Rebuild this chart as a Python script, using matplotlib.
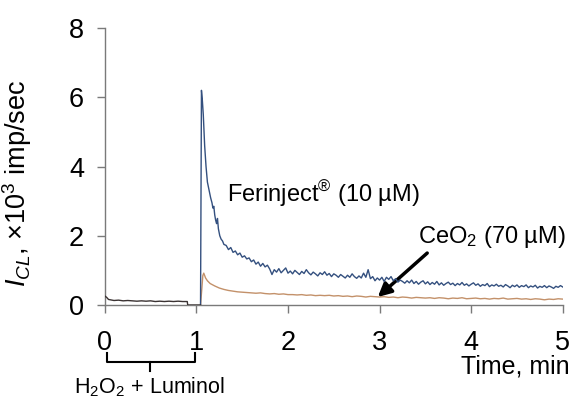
import matplotlib
matplotlib.use("Agg")
import matplotlib.pyplot as plt

plt.rcParams['font.family'] = ['Liberation Sans', 'DejaVu Sans']
plt.rcParams['mathtext.fontset'] = 'custom'
plt.rcParams['mathtext.rm'] = 'Liberation Sans'
plt.rcParams['mathtext.it'] = 'Liberation Sans:italic'
plt.rcParams['mathtext.bf'] = 'Liberation Sans:bold'

# ---- data ----
t_base = [0, 0.02, 0.04, 0.06, 0.08, 0.1, 0.15, 0.2, 0.25, 0.3, 0.35, 0.4,
          0.45, 0.5, 0.55, 0.6, 0.65, 0.7, 0.75, 0.8, 0.85, 0.9, 0.905, 1.045]
v_base = [0.26, 0.22, 0.16, 0.15, 0.14, 0.13, 0.14, 0.12, 0.13, 0.12, 0.11, 0.12,
          0.11, 0.12, 0.10, 0.11, 0.10, 0.11, 0.10, 0.11, 0.10, 0.10, 0.0, 0.0]

t_fer_peak = [1.045, 1.055, 1.065, 1.075, 1.09, 1.105, 1.12, 1.14, 1.155, 1.17,
              1.18, 1.19, 1.2, 1.21, 1.22, 1.23, 1.24, 1.255, 1.27, 1.285, 1.3]
v_fer_peak = [0.0, 6.2, 5.9, 5.5, 4.6, 4.0, 3.55, 3.3, 3.1, 2.95,
              2.8, 2.85, 2.6, 2.45, 2.35, 2.5, 2.2, 2.0, 1.9, 1.85, 1.75]

t_fer_tail_start = 1.325
t_fer_tail_step = 0.025
v_fer_tail = [
    1.72, 1.60, 1.66, 1.52, 1.56, 1.45, 1.50, 1.38, 1.42, 1.33,
    1.36, 1.25, 1.30, 1.18, 1.24, 1.12, 1.20, 1.10, 1.15, 1.04,
    0.88, 1.02, 0.95, 1.05, 0.93, 1.00, 1.07, 0.92, 0.98, 0.90,
    1.00, 0.94, 0.88, 0.97, 0.91, 1.02, 0.93, 0.87, 0.95, 0.90,
    0.84, 0.93, 0.88, 0.96, 0.86, 0.91, 0.82, 0.90, 0.86, 0.80,
    0.88, 0.83, 0.78, 0.86, 0.80, 0.90, 0.82, 0.77, 0.84, 0.78,
    0.92, 0.80, 1.02, 0.76, 0.82, 0.70, 0.78, 0.72, 0.80, 0.68,
    0.80, 0.74, 0.82, 0.70, 0.76, 0.66, 0.72, 0.68, 0.63, 0.70,
    0.64, 0.72, 0.62, 0.68, 0.60, 0.66, 0.70, 0.61, 0.67, 0.59,
    0.65, 0.60, 0.68, 0.58, 0.64, 0.57, 0.62, 0.66, 0.59, 0.63,
    0.56, 0.62, 0.58, 0.65, 0.57, 0.61, 0.55, 0.60, 0.64, 0.57,
    0.61, 0.54, 0.59, 0.56, 0.62, 0.53, 0.58, 0.55, 0.60, 0.54,
    0.57, 0.52, 0.59, 0.55, 0.50, 0.57, 0.53, 0.58, 0.51, 0.56,
    0.53, 0.58, 0.50, 0.55, 0.52, 0.57, 0.49, 0.54, 0.51, 0.56,
    0.50, 0.55, 0.52, 0.48, 0.54, 0.51, 0.56, 0.52,
]

t_ceo_peak = [1.045, 1.06, 1.07, 1.08, 1.09, 1.1, 1.12, 1.15, 1.2, 1.25,
              1.3, 1.35, 1.4, 1.45, 1.5]
v_ceo_peak = [0.0, 0.5, 0.85, 0.92, 0.85, 0.78, 0.70, 0.62, 0.55, 0.49,
              0.45, 0.42, 0.40, 0.38, 0.37]

t_ceo_tail_start = 1.55
t_ceo_tail_step = 0.05
v_ceo_tail = [
    0.36, 0.35, 0.34, 0.35, 0.33, 0.32, 0.33, 0.31, 0.32, 0.30,
    0.30, 0.29, 0.30, 0.28, 0.29, 0.27, 0.28, 0.27, 0.28, 0.26,
    0.27, 0.25, 0.26, 0.24, 0.26, 0.25, 0.23, 0.25, 0.24, 0.23,
    0.24, 0.22, 0.23, 0.21, 0.23, 0.22, 0.20, 0.22, 0.21, 0.20,
    0.21, 0.19, 0.21, 0.20, 0.18, 0.20, 0.19, 0.21, 0.18, 0.19,
    0.20, 0.18, 0.19, 0.17, 0.19, 0.18, 0.20, 0.17, 0.18, 0.19,
    0.17, 0.18, 0.16, 0.18, 0.17, 0.15, 0.17, 0.16, 0.18, 0.17,
]

x_ticks = [0, 1, 2, 3, 4, 5]
y_ticks = [0, 2, 4, 6, 8]

label_fer = r'Ferinject$^{\circledR}$ (10 µM)'
label_ceo = r'CeO$_2$ (70 µM)'
label_inj = r'H$_2$O$_2$ + Luminol'
x_label = 'Time, min'
y_label = r'$I_{CL}$, ×10$^3$ imp/sec'

# ---- build series ----
t_fer_tail = [t_fer_tail_start + i * t_fer_tail_step for i in range(len(v_fer_tail))]
t_ceo_tail = [t_ceo_tail_start + i * t_ceo_tail_step for i in range(len(v_ceo_tail))]

blue = '#34507f'
tan = '#c3916a'
axis_gray = '#7a7a7a'

fig = plt.figure(figsize=(5.76, 3.99), dpi=100)
ax = fig.add_axes([0.182, 0.2356, 0.795, 0.6942])

ax.plot(t_ceo_peak + t_ceo_tail, v_ceo_peak + v_ceo_tail, color=tan, lw=1.0, zorder=3)
ax.plot(t_fer_peak + t_fer_tail, v_fer_peak + v_fer_tail, color=blue, lw=1.0, zorder=4)
ax.plot(t_base, v_base, color='#3a3232', lw=1.0, zorder=4)

ax.set_xlim(0, 5)
ax.set_ylim(0, 8)
ax.set_xticks(x_ticks)
ax.set_yticks(y_ticks)
ax.spines['top'].set_visible(False)
ax.spines['right'].set_visible(False)
for s in ('left', 'bottom'):
    ax.spines[s].set_color(axis_gray)
    ax.spines[s].set_linewidth(1.0)
ax.tick_params(axis='x', direction='out', length=6, width=1.0, color=axis_gray,
               labelsize=19.5, pad=12)
ax.tick_params(axis='y', direction='out', length=6, width=1.0, color=axis_gray,
               labelsize=19.5, pad=9)

ax.set_ylabel(y_label, fontsize=19.5)
ax.yaxis.set_label_coords(-0.155, 0.44)

# x label at right, below the tick labels
ax.text(5.07, -1.98, x_label, fontsize=18, ha='right', va='baseline', clip_on=False)

# annotations
ax.text(1.33, 2.98, label_fer, fontsize=17, ha='left', va='baseline')
ax.text(3.42, 1.79, label_ceo, fontsize=17, ha='left', va='baseline')
ax.annotate('', xy=(2.98, 0.23), xytext=(3.52, 1.5),
            arrowprops=dict(arrowstyle='-|>,head_length=0.8,head_width=0.4',
                            lw=2.5, color='black', shrinkA=0, shrinkB=0))

# bracket for H2O2 + Luminol
bx = [0.02, 0.02, 0.98, 0.98]
by = [-1.38, -1.64, -1.64, -1.38]
ax.plot(bx, by, color='black', lw=1.5, clip_on=False)
ax.plot([0.49, 0.49], [-1.64, -1.9], color='black', lw=1.5, clip_on=False)
ax.text(0.49, -2.56, label_inj, fontsize=15.5, ha='center', va='baseline', clip_on=False)

fig.savefig('out.png', dpi=100)
